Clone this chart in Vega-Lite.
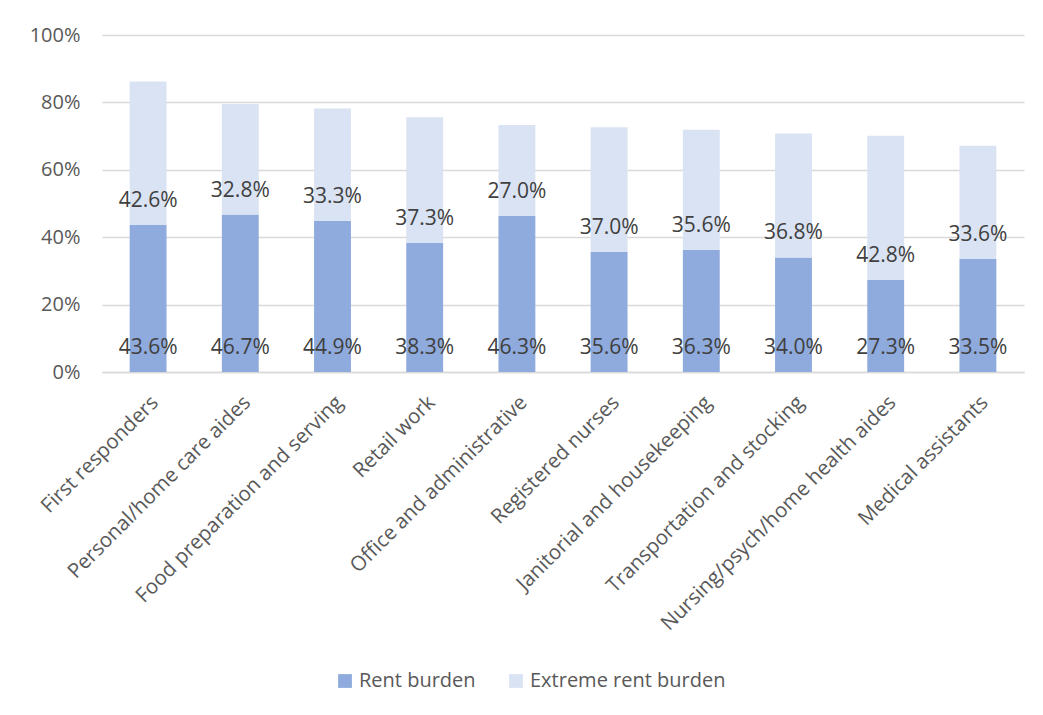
{
  "$schema": "https://vega.github.io/schema/vega-lite/v6.json",
  "width": 922,
  "height": 337,
  "autosize": {"type": "none"},
  "padding": {"left": 102, "top": 35, "right": 19, "bottom": 343},
  "background": "white",
  "config": {
    "font": "Open Sans",
    "view": {"stroke": null},
    "axis": {"labelColor": "#595959", "labelFont": "Open Sans", "labelFontSize": 20, "titleColor": "#595959"}
  },
  "data": {"values": [
    {"occupation": "First responders", "series": "Rent burden", "value": 0.436},
    {"occupation": "First responders", "series": "Extreme rent burden", "value": 0.426},
    {"occupation": "Personal/home care aides", "series": "Rent burden", "value": 0.467},
    {"occupation": "Personal/home care aides", "series": "Extreme rent burden", "value": 0.328},
    {"occupation": "Food preparation and serving", "series": "Rent burden", "value": 0.449},
    {"occupation": "Food preparation and serving", "series": "Extreme rent burden", "value": 0.333},
    {"occupation": "Retail work", "series": "Rent burden", "value": 0.383},
    {"occupation": "Retail work", "series": "Extreme rent burden", "value": 0.373},
    {"occupation": "Office and administrative", "series": "Rent burden", "value": 0.463},
    {"occupation": "Office and administrative", "series": "Extreme rent burden", "value": 0.270},
    {"occupation": "Registered nurses", "series": "Rent burden", "value": 0.356},
    {"occupation": "Registered nurses", "series": "Extreme rent burden", "value": 0.370},
    {"occupation": "Janitorial and housekeeping", "series": "Rent burden", "value": 0.363},
    {"occupation": "Janitorial and housekeeping", "series": "Extreme rent burden", "value": 0.356},
    {"occupation": "Transportation and stocking", "series": "Rent burden", "value": 0.340},
    {"occupation": "Transportation and stocking", "series": "Extreme rent burden", "value": 0.368},
    {"occupation": "Nursing/psych/home health aides", "series": "Rent burden", "value": 0.273},
    {"occupation": "Nursing/psych/home health aides", "series": "Extreme rent burden", "value": 0.428},
    {"occupation": "Medical assistants", "series": "Rent burden", "value": 0.335},
    {"occupation": "Medical assistants", "series": "Extreme rent burden", "value": 0.336}
  ]},
  "transform": [
    {"stack": "value", "groupby": ["occupation"], "sort": [{"field": "series", "order": "descending"}], "as": ["v0", "v1"]}
  ],
  "encoding": {
    "x": {
      "field": "occupation", "type": "nominal", "sort": null, "title": null,
      "scale": {"paddingInner": 0.6, "paddingOuter": 0.3},
      "axis": {"labelAngle": -45, "ticks": false, "domain": true, "domainColor": "#d9d9d9", "domainWidth": 1.5, "labelPadding": 20, "labelDx": -8, "labelFontSize": 20.5, "labelLimit": 500}
    }
  },
  "layer": [
    {
      "mark": {"type": "bar"},
      "encoding": {
        "y": {
          "field": "v0", "type": "quantitative", "title": null,
          "scale": {"domain": [0, 1]},
          "axis": {"values": [0, 0.2, 0.4, 0.6, 0.8, 1], "format": ".0%", "ticks": false, "domain": false, "gridColor": "#d9d9d9", "gridWidth": 1.5, "labelPadding": 22}
        },
        "y2": {"field": "v1"},
        "color": {
          "field": "series", "type": "nominal", "title": null,
          "scale": {"domain": ["Rent burden", "Extreme rent burden"], "range": ["#8faadc", "#dae3f3"]},
          "legend": {
            "orient": "none", "legendX": 233, "legendY": 636, "direction": "horizontal",
            "symbolType": "square", "symbolSize": 190, "symbolStrokeWidth": 0, "symbolOpacity": 1,
            "labelFontSize": 20, "labelColor": "#595959", "labelFont": "Open Sans", "labelLimit": 400, "columnPadding": 30, "labelOffset": 4
          }
        }
      }
    },
    {
      "mark": {"type": "text", "fontSize": 21, "color": "#404040", "dy": -24, "baseline": "middle"},
      "encoding": {
        "y": {"field": "v0", "type": "quantitative"},
        "text": {"field": "value", "type": "quantitative", "format": ".1%"},
        "detail": {"field": "series"}
      }
    }
  ]
}
